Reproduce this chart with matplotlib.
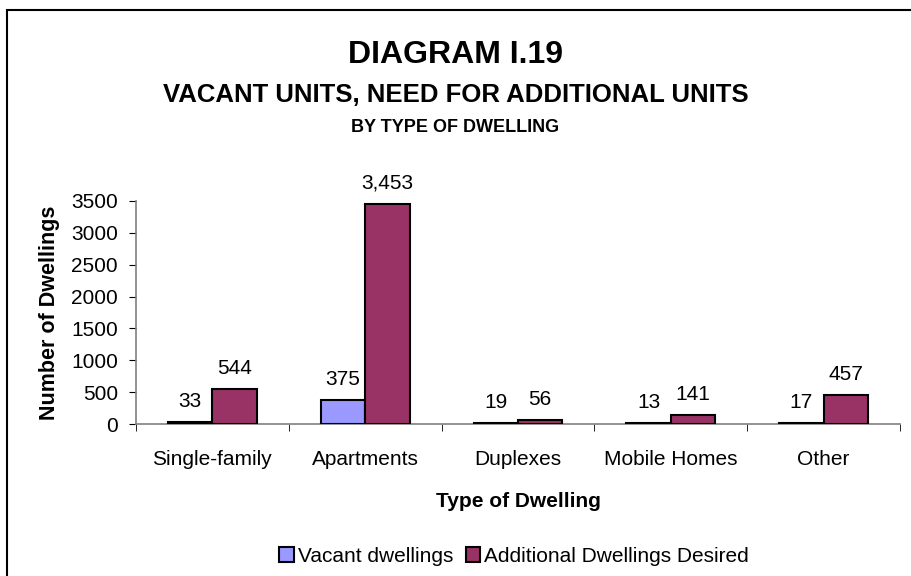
import numpy as np
import matplotlib
matplotlib.use("Agg")
import matplotlib.pyplot as plt
from matplotlib.patches import Rectangle

plt.rcParams["font.family"] = ["Liberation Sans", "DejaVu Sans"]

categories = ["Single-family", "Apartments", "Duplexes", "Mobile Homes", "Other"]
vacant = [33, 375, 19, 13, 17]
desired = [544, 3453, 56, 141, 457]
series_names = ["Vacant dwellings", "Additional Dwellings Desired"]
colors = ["#9999FF", "#993366"]
yticks = [0, 500, 1000, 1500, 2000, 2500, 3000, 3500]

W, H = 911, 576
fig = plt.figure(figsize=(W / 100, H / 100), dpi=100)
ax = fig.add_axes([136 / W, 1 - 424 / H, (900 - 136) / W, (424 - 201) / H])

# chart border (left and top visible, rest cut off)
fig.patches.append(Rectangle((7 / W, -0.1), 1.2, 1 - 10 / H + 0.1,
                             transform=fig.transFigure, fill=False,
                             edgecolor="black", linewidth=1.5))

x = np.arange(len(categories))
bw = 0.29
b1 = ax.bar(x - bw / 2, vacant, bw, color=colors[0], edgecolor="black",
            linewidth=1.5, label=series_names[0], zorder=3)
b2 = ax.bar(x + bw / 2, desired, bw, color=colors[1], edgecolor="black",
            linewidth=1.5, label=series_names[1], zorder=3)

for bars in (b1, b2):
    for r in bars:
        v = r.get_height()
        ax.annotate(f"{int(v):,}", (r.get_x() + r.get_width() / 2, v),
                    xytext=(0, 8), textcoords="offset points",
                    ha="center", va="bottom", fontsize=15)

ax.set_xlim(-0.5, len(categories) - 0.5)
ax.set_ylim(0, 3500)
ax.set_yticks(yticks)
ax.set_yticklabels([str(t) for t in yticks], fontsize=15)
ax.set_xticks(x)
ax.set_xticklabels(categories, fontsize=15)
ax.set_xticks(np.arange(len(categories) + 1) - 0.5, minor=True)
ax.tick_params(axis="x", which="major", length=0, pad=19)
ax.tick_params(axis="x", which="minor", length=5, color="black")
ax.tick_params(axis="y", length=5, color="black", pad=8)

for s in ("top", "right"):
    ax.spines[s].set_visible(False)
for s in ("left", "bottom"):
    ax.spines[s].set_color("#808080")
    ax.spines[s].set_linewidth(1.2)

ax.set_ylabel("Number of Dwellings", fontsize=15.5, fontweight="bold", labelpad=8)
ax.set_xlabel("Type of Dwelling", fontsize=15, fontweight="bold", labelpad=16)

fig.text(0.5, 1 - 55 / H, "DIAGRAM I.19", ha="center", va="center",
         fontsize=23, fontweight="bold")
fig.text(0.5, 1 - 95 / H, "VACANT UNITS, NEED FOR ADDITIONAL UNITS",
         ha="center", va="center", fontsize=18.5, fontweight="bold")
fig.text(0.5, 1 - 127 / H, "BY TYPE OF DWELLING", ha="center", va="center",
         fontsize=13, fontweight="bold")

fig.legend(loc="center", bbox_to_anchor=(514 / W, 1 - 556 / H), ncol=2,
           frameon=False, fontsize=15, handlelength=0.7, handleheight=0.7,
           handletextpad=0.2, columnspacing=0.6)

fig.savefig("out.png", dpi=100)
